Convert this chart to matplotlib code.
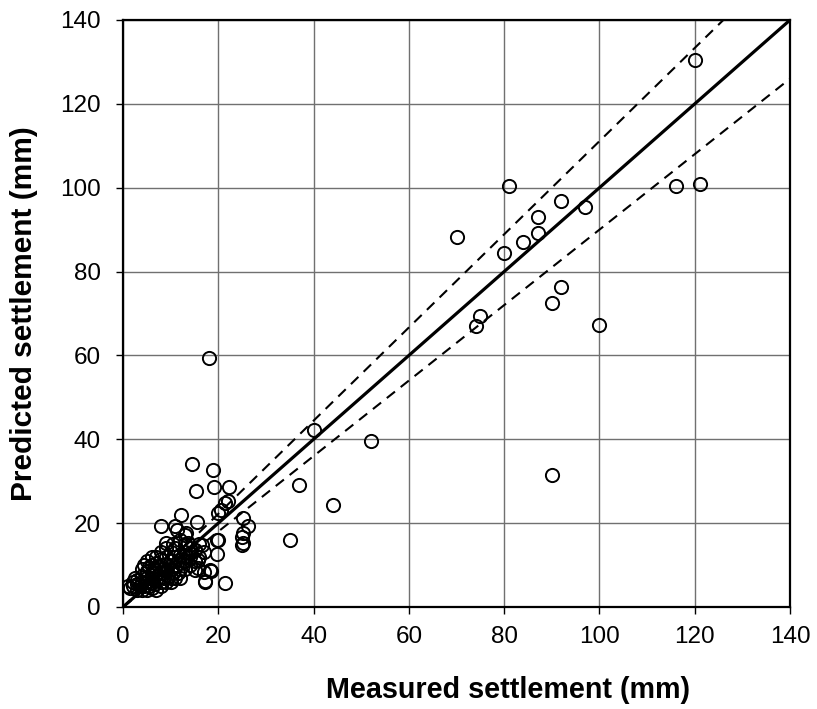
import matplotlib
matplotlib.use('Agg')
import matplotlib.pyplot as plt
import matplotlib.ticker as mticker
import numpy as np

plt.rcParams['font.family'] = ['Liberation Sans', 'DejaVu Sans']

# measured vs predicted settlement (mm)
measured = [
    120, 121, 116, 81, 92, 97, 87, 87, 84, 80, 70, 92, 90, 100, 75, 74,
    18, 40, 52, 90, 37, 44, 35,
    14.5, 18.9, 15.3, 19, 22.2, 22,
    12.2, 8, 11, 15.5, 13.3, 20.6, 21.3, 19.9, 25.2, 26.2, 25.2, 25.2,
    19.9, 19.7, 21.3, 17.3, 18.5, 15.7, 15, 13.6, 9.1,
    11.3, 13, 16.5, 19.7, 18.3, 17.2, 15.1, 16.9, 14.1, 15.8, 24.9, 24.9,
    1, 1.5, 2, 2, 2.5, 3, 3, 3, 3.5, 4, 4, 4, 4, 4.5, 4.5,
    5, 5, 5, 5, 5, 5.5, 5.5, 6, 6, 6, 6, 6, 6, 6.5, 6.5,
    7, 7, 7, 7, 7, 7.5, 7.5, 8, 8, 8, 8, 8, 8, 8.5, 8.5,
    9, 9, 9, 9, 9, 9.5, 10, 10, 10, 10, 10, 10.5, 10.5,
    11, 11, 11, 11, 11.5, 12, 12, 12, 12, 12, 12.5,
    13, 13, 13, 13, 13.5, 14, 14, 14, 15, 15, 16, 16, 17,
]
predicted = [
    130.5, 101, 100.3, 100.3, 96.8, 95.5, 93, 89.3, 87, 84.4, 88.2, 76.4, 72.4, 67.2, 69.5, 67.1,
    59.3, 42.2, 39.7, 31.5, 29.2, 24.3, 16,
    34, 32.6, 27.7, 28.5, 28.5, 25.3,
    21.9, 19.2, 19.2, 20.3, 17.6, 23.1, 24.7, 22.3, 21.2, 19.2, 17.6, 15.2,
    16, 12.6, 5.6, 6.2, 8.6, 9.2, 13.6, 15.2, 15.2,
    18.4, 17.2, 14.8, 16, 8.8, 6, 8.8, 8.4, 12.9, 11.2, 16.8, 14.8,
    5, 4.5, 6, 5, 7, 4, 5.5, 6.5, 5, 4, 6, 7.5, 9, 5, 10,
    4, 6, 7, 8.5, 11, 5, 9.5, 4.5, 6, 7, 8, 10, 12, 5.5, 9,
    4, 6.5, 8, 10.5, 12, 7, 9.5, 5, 6, 8, 10, 11.5, 13, 7, 9,
    6, 8.5, 10, 12, 14, 7.5, 6, 7, 9, 11, 13, 8, 15,
    7, 9.5, 12, 14, 8, 7, 9, 10.5, 12.5, 16, 11,
    9, 11, 13, 15, 12, 10, 12, 14, 11, 13.5, 12, 15, 13,
]

line_x = [0, 140]
fig, ax = plt.subplots(figsize=(8.17, 7.09), dpi=100)
fig.subplots_adjust(left=0.1506, right=0.967, top=0.9718, bottom=0.1439)

ax.grid(True, color='#707070', linewidth=1.0)
ax.set_axisbelow(True)

x = np.array(line_x, dtype=float)
ax.plot(x, x, color='black', linewidth=2.3, zorder=3)
ax.plot(x, x / 0.9, color='black', linewidth=1.5, linestyle=(0, (5, 3.5)), zorder=3)
ax.plot(x, x * 0.9, color='black', linewidth=1.5, linestyle=(0, (5, 3.5)), zorder=3)

ax.plot(measured, predicted, linestyle='none', marker='o', markersize=9.5,
        markerfacecolor='none', markeredgecolor='black', markeredgewidth=1.4, zorder=4)

ax.set_xlim(0, 140)
ax.set_ylim(0, 140)
ax.xaxis.set_major_locator(mticker.MultipleLocator(20))
ax.yaxis.set_major_locator(mticker.MultipleLocator(20))
ax.tick_params(direction='out', length=5, width=1, labelsize=17.5)
ax.tick_params(axis='x', pad=9)
ax.tick_params(axis='y', pad=11)
for s in ax.spines.values():
    s.set_linewidth(1.6)

ax.set_xlabel('Measured settlement (mm)', fontsize=20.7, fontweight='bold')
ax.xaxis.set_label_coords(0.577, -0.118)
ax.set_ylabel('Predicted settlement (mm)', fontsize=21.5, fontweight='bold', labelpad=16)

plt.savefig('out.png', dpi=100)
